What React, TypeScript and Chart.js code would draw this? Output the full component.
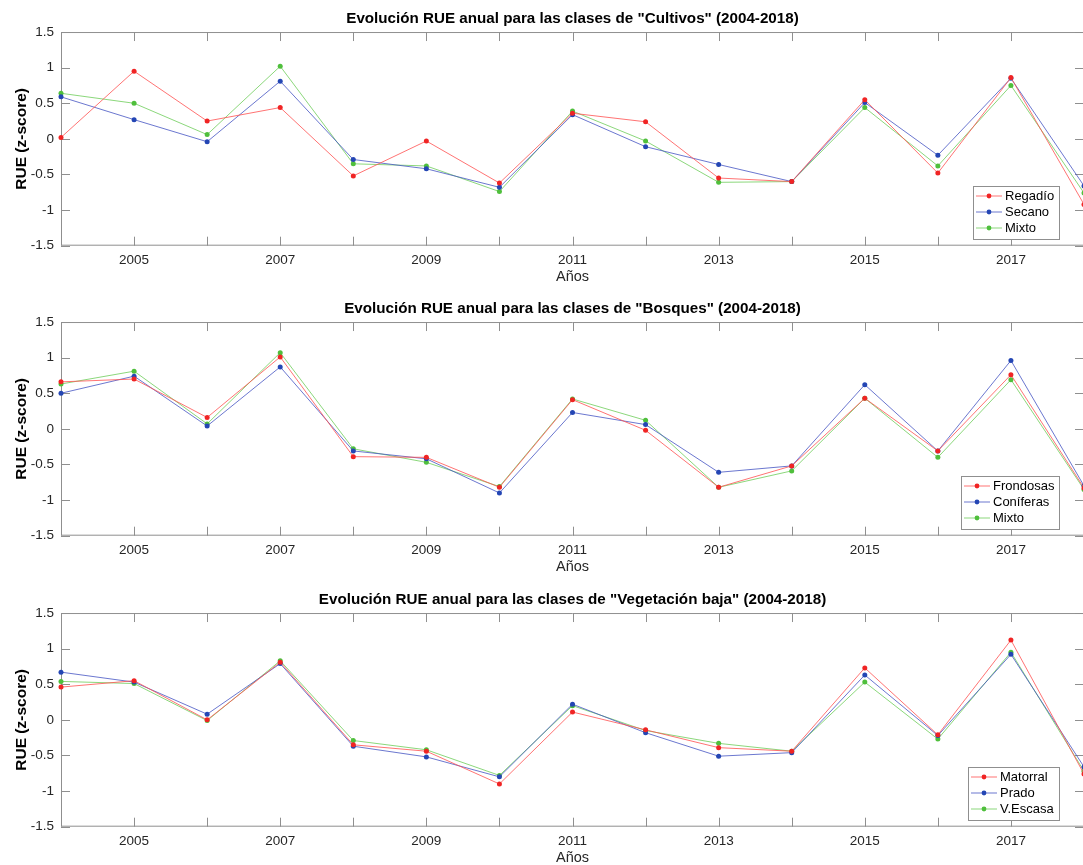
import React, { useEffect, useRef } from "react";
import { Chart, registerables } from "chart.js";

Chart.register(...registerables);

const FONT = '"Liberation Sans", Arial, Helvetica, sans-serif';
Chart.defaults.font.family = FONT;

const years = ["2004", "2005", "2006", "2007", "2008", "2009", "2010", "2011", "2012", "2013", "2014", "2015", "2016", "2017", "2018"];
const yTicks = [-1.5, -1, -0.5, 0, 0.5, 1, 1.5];

const cultivosRegadio = [0.02, 0.95, 0.25, 0.44, -0.52, -0.03, -0.62, 0.36, 0.24, -0.55, -0.6, 0.55, -0.48, 0.86, -0.92];
const cultivosSecano = [0.59, 0.27, -0.04, 0.81, -0.29, -0.42, -0.68, 0.34, -0.11, -0.36, -0.6, 0.51, -0.23, 0.85, -0.66];
const cultivosMixto = [0.64, 0.5, 0.06, 1.02, -0.35, -0.38, -0.74, 0.39, -0.03, -0.61, -0.6, 0.44, -0.38, 0.75, -0.76];

const bosquesFrondosas = [0.66, 0.7, 0.16, 1.01, -0.39, -0.4, -0.82, 0.41, -0.02, -0.82, -0.52, 0.43, -0.31, 0.76, -0.83];
const bosquesConiferas = [0.5, 0.74, 0.04, 0.87, -0.31, -0.42, -0.9, 0.23, 0.06, -0.61, -0.52, 0.62, -0.31, 0.96, -0.8];
const bosquesMixto = [0.63, 0.81, 0.07, 1.07, -0.28, -0.47, -0.81, 0.42, 0.12, -0.82, -0.59, 0.43, -0.4, 0.69, -0.85];

const vegMatorral = [0.46, 0.55, 0.0, 0.81, -0.35, -0.44, -0.9, 0.11, -0.14, -0.39, -0.44, 0.73, -0.21, 1.12, -0.76];
const vegPrado = [0.67, 0.53, 0.08, 0.79, -0.37, -0.52, -0.8, 0.22, -0.18, -0.51, -0.46, 0.63, -0.22, 0.92, -0.66];
const vegEscasa = [0.54, 0.51, -0.01, 0.83, -0.29, -0.42, -0.78, 0.2, -0.15, -0.33, -0.44, 0.53, -0.27, 0.95, -0.72];

const panels = [
  {
    title: 'Evolución RUE anual para las clases de "Cultivos" (2004-2018)',
    labels: ["Regadío", "Secano", "Mixto"],
    series: [cultivosRegadio, cultivosSecano, cultivosMixto],
    top: 0,
  },
  {
    title: 'Evolución RUE anual para las clases de "Bosques" (2004-2018)',
    labels: ["Frondosas", "Coníferas", "Mixto"],
    series: [bosquesFrondosas, bosquesConiferas, bosquesMixto],
    top: 290,
  },
  {
    title: 'Evolución RUE anual para las clases de "Vegetación baja" (2004-2018)',
    labels: ["Matorral", "Prado", "V.Escasa"],
    series: [vegMatorral, vegPrado, vegEscasa],
    top: 581,
  },
];

const lineColors = ["rgba(255,80,80,0.8)", "rgba(70,85,195,0.8)", "rgba(110,205,90,0.8)"];
const markerColors = ["#f02424", "#2446b4", "#4fbf3c"];

const AXIS_COLOR = "#8f8f8f";
const TICK_LEN = 9;

const boxPlugin = {
  id: "matlabBox",
  beforeDatasetsDraw(chart: any) {
    const { ctx, chartArea } = chart;
    const { left, right, top, bottom } = chartArea;
    const xs = chart.scales.x;
    const ys = chart.scales.y;
    ctx.save();
    ctx.strokeStyle = AXIS_COLOR;
    ctx.lineWidth = 1;
    ctx.beginPath();
    ctx.rect(left + 0.5, top + 0.5, right - left - 1, bottom - top - 1);
    for (let i = 0; i < years.length; i++) {
      const px = Math.round(xs.getPixelForValue(i)) + 0.5;
      ctx.moveTo(px, bottom);
      ctx.lineTo(px, bottom - TICK_LEN);
      ctx.moveTo(px, top);
      ctx.lineTo(px, top + TICK_LEN);
    }
    for (const v of yTicks) {
      const py = Math.round(ys.getPixelForValue(v)) + 0.5;
      ctx.moveTo(left, py);
      ctx.lineTo(left + TICK_LEN, py);
      ctx.moveTo(right, py);
      ctx.lineTo(right - TICK_LEN, py);
    }
    ctx.stroke();
    ctx.restore();
  },
};

const legendPlugin = {
  id: "matlabLegend",
  afterDraw(chart: any) {
    const { ctx, chartArea } = chart;
    const ds = chart.data.datasets;
    ctx.save();
    ctx.font = `13px ${FONT}`;
    const textW = Math.max(...ds.map((d: any) => ctx.measureText(d.label).width));
    const rowH = 16;
    const w = 32 + textW + 5;
    const h = ds.length * rowH + 5;
    const x1 = chartArea.right - 25;
    const y1 = chartArea.bottom - 7;
    const x0 = Math.round(x1 - w);
    const y0 = Math.round(y1 - h);
    ctx.fillStyle = "#ffffff";
    ctx.fillRect(x0, y0, w, h);
    ctx.strokeStyle = AXIS_COLOR;
    ctx.lineWidth = 1;
    ctx.strokeRect(x0 + 0.5, y0 + 0.5, Math.round(w), h);
    ds.forEach((d: any, i: number) => {
      const cy = y0 + 2 + rowH * i + rowH / 2;
      ctx.strokeStyle = d.borderColor;
      ctx.lineWidth = 1;
      ctx.beginPath();
      ctx.moveTo(x0 + 3, cy);
      ctx.lineTo(x0 + 29, cy);
      ctx.stroke();
      ctx.fillStyle = d.pointBackgroundColor;
      ctx.beginPath();
      ctx.arc(x0 + 16, cy, 2.4, 0, Math.PI * 2);
      ctx.fill();
      ctx.fillStyle = "#000000";
      ctx.textBaseline = "middle";
      ctx.textAlign = "left";
      ctx.fillText(d.label, x0 + 32, cy + 0.5);
    });
    ctx.restore();
  },
};

function Panel({ panel }: { panel: (typeof panels)[number] }) {
  const ref = useRef<HTMLCanvasElement | null>(null);
  useEffect(() => {
    if (!ref.current) return;
    const chart = new Chart(ref.current, {
      type: "line",
      data: {
        labels: years,
        datasets: panel.series.map((s, i) => ({
          label: panel.labels[i],
          data: s,
          borderColor: lineColors[i],
          backgroundColor: markerColors[i],
          pointBackgroundColor: markerColors[i],
          pointBorderWidth: 0,
          pointRadius: 2.5,
          borderWidth: 1,
          tension: 0,
          fill: false,
          clip: false as any,
        })),
      },
      options: {
        responsive: false,
        animation: false,
        devicePixelRatio: 1,
        layout: { padding: { left: 0, right: 4, top: 0, bottom: 0 } },
        plugins: {
          legend: { display: false },
          tooltip: { enabled: false },
          title: {
            display: true,
            fullSize: false,
            text: panel.title,
            color: "#000000",
            font: { size: 15.2, weight: "bold", family: FONT },
            padding: { top: 9.2, bottom: 4.6 },
          },
        },
        scales: {
          x: {
            type: "category",
            offset: false,
            grid: { display: false, drawTicks: false },
            border: { display: false },
            ticks: {
              autoSkip: false,
              maxRotation: 0,
              minRotation: 0,
              padding: 6,
              color: "#262626",
              font: { size: 13.5, family: FONT },
              callback: (_v: any, i: number) => (i % 2 === 1 ? years[i] : ""),
            },
            title: {
              display: true,
              text: "Años",
              color: "#262626",
              font: { size: 14.5, family: FONT },
              padding: { top: 0, bottom: 4.3 },
            },
            afterFit: (s: any) => {
              s.height = 44.3;
            },
          },
          y: {
            type: "linear",
            min: -1.5,
            max: 1.5,
            grid: { display: false, drawTicks: false },
            border: { display: false },
            afterBuildTicks: (s: any) => {
              s.ticks = yTicks.map((v) => ({ value: v }));
            },
            ticks: {
              padding: 7,
              color: "#262626",
              font: { size: 13.5, family: FONT },
              callback: (v: any) => String(v),
            },
            title: {
              display: true,
              text: "RUE (z-score)",
              color: "#000000",
              font: { size: 15.5, weight: "bold", family: FONT },
              padding: { top: 12.5, bottom: 0 },
            },
            afterFit: (s: any) => {
              s.width = 61;
            },
          },
        },
      },
      plugins: [boxPlugin, legendPlugin],
    });
    return () => chart.destroy();
  }, [panel]);
  return (
    <canvas
      ref={ref}
      width={1090}
      height={290}
      style={{ position: "absolute", left: 0, top: panel.top, width: 1090, height: 290 }}
    />
  );
}

export default function App() {
  return (
    <div
      style={{
        position: "absolute",
        left: 0,
        top: 0,
        width: 1083,
        height: 865,
        overflow: "hidden",
        background: "#ffffff",
      }}
    >
      {panels.map((p, i) => (
        <Panel key={i} panel={p} />
      ))}
    </div>
  );
}
